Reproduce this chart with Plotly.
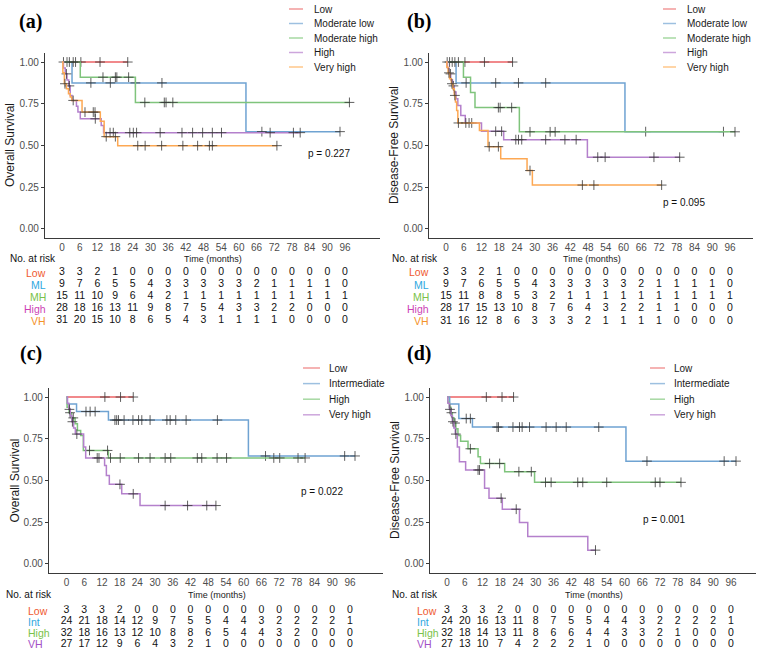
import plotly.graph_objects as go

W, H = 766, 654
TIMES = [0, 6, 12, 18, 24, 30, 36, 42, 48, 54, 60, 66, 72, 78, 84, 90, 96]

# ---------------- Panel (a): Overall survival, 5 groups ----------------
a_low_t = [0, 22.3];                         a_low_s = [1.0, 1.0]
a_low_c = [6.4, 12.9, 22.3]
a_ml_t = [0, 3.4, 62.4, 94.3];               a_ml_s = [1.0, 0.875, 0.583, 0.583]
a_ml_c = [1.7, 9.8, 16.4, 24.9, 33.9, 67.8, 94.3]
a_mh_t = [0, 6.2, 24.9, 97.5];               a_mh_s = [1.0, 0.909, 0.758, 0.758]
a_mh_c = [0.5, 2.5, 3.8, 4.6, 13.9, 18.1, 18.6, 22.6, 28.1, 34.7, 35.3, 37.6, 97.5]
a_hi_t = [0, 0.5, 1.1, 1.7, 2.3, 2.8, 3.4, 4.9, 5.4, 6.2, 13.3, 14.1, 80.8]
a_hi_s = [1.0, 0.964, 0.929, 0.893, 0.857, 0.80, 0.77, 0.735, 0.70, 0.66, 0.62, 0.577, 0.577]
a_hi_c = [1.5, 2.5, 11.3, 16.3, 17.4, 23.0, 24.2, 25.3, 33.3, 40.7, 44.3, 47.7, 51.0, 54.1, 70.6, 78.5, 80.8]
a_vh_t = [0, 0.3, 0.8, 1.5, 2.2, 2.8, 3.3, 6.8, 13.0, 14.3, 18.9, 72.9]
a_vh_s = [1.0, 0.935, 0.87, 0.84, 0.81, 0.79, 0.77, 0.70, 0.645, 0.553, 0.499, 0.499]
a_vh_c = [1.0, 3.8, 7.8, 10.6, 11.2, 15.0, 18.1, 25.7, 28.2, 33.8, 41.0, 46.0, 50.0, 51.0, 72.9]

# ---------------- Panel (b): Disease-free survival, 5 groups ----------------
b_low_t = [0, 22.5];                         b_low_s = [1.0, 1.0]
b_low_c = [6.4, 13.0, 22.5]
b_ml_t = [0, 3.4, 60.5, 93.8];               b_ml_s = [1.0, 0.875, 0.583, 0.583]
b_ml_c = [1.2, 6.8, 16.8, 24.5, 33.7, 67.5, 93.8]
b_mh_t = [0, 5.9, 8.3, 9.8, 24.8, 97.7];     b_mh_s = [1.0, 0.909, 0.818, 0.727, 0.582, 0.582]
b_mh_c = [0.4, 2.1, 3.0, 4.2, 17.7, 18.3, 22.2, 28.4, 35.2, 36.9, 97.7]
b_hi_t = [0, 0.5, 1.0, 1.6, 2.2, 2.8, 3.4, 4.0, 5.0, 6.5, 12.0, 19.5, 47.8, 79.0]
b_hi_s = [1.0, 0.964, 0.929, 0.893, 0.857, 0.82, 0.78, 0.74, 0.68, 0.635, 0.585, 0.535, 0.43, 0.43]
b_hi_c = [1.5, 2.5, 7.8, 8.7, 16.8, 18.8, 23.6, 24.5, 25.6, 33.7, 40.2, 44.0, 51.3, 53.8, 70.3, 79.0]
b_vh_t = [0, 0.3, 0.7, 1.2, 1.8, 2.3, 2.8, 3.2, 3.6, 4.0, 11.3, 14.2, 18.5, 27.4, 29.2, 72.9]
b_vh_s = [1.0, 0.968, 0.935, 0.90, 0.87, 0.84, 0.80, 0.76, 0.71, 0.635, 0.59, 0.493, 0.42, 0.35, 0.263, 0.263]
b_vh_c = [1.0, 2.0, 3.0, 4.2, 6.7, 14.6, 17.7, 28.4, 46.1, 50.0, 72.9]

# ---------------- Panel (c): Overall survival, 4 groups ----------------
c_low_t = [0, 22.6];                         c_low_s = [1.0, 1.0]
c_low_c = [13.0, 18.3, 22.6]
c_int_t = [0, 0.3, 3.4, 14.2, 61.6, 97.7];   c_int_s = [1.0, 0.958, 0.913, 0.862, 0.647, 0.647]
c_int_c = [6.6, 8.0, 9.7, 16.4, 17.0, 17.6, 19.5, 22.5, 24.4, 25.5, 28.3, 34.0, 35.1, 37.0, 40.5, 51.1,
           67.4, 94.2, 97.7]
c_hi_t = [0, 0.2, 0.9, 1.7, 2.9, 3.7, 4.8, 5.7, 14.2, 80.8]
c_hi_s = [1.0, 0.938, 0.906, 0.875, 0.84, 0.80, 0.77, 0.68, 0.635, 0.635]
c_hi_c = [1.2, 2.3, 7.8, 13.9, 14.9, 18.2, 24.4, 28.3, 33.4, 35.3, 44.3, 45.8, 51.0, 54.2, 70.2, 72.2,
          78.4, 80.8]
c_vh_t = [0, 0.3, 0.8, 1.3, 1.8, 2.4, 3.0, 5.8, 6.5, 12.9, 13.5, 14.5, 18.7, 24.9, 50.6]
c_vh_s = [1.0, 0.963, 0.926, 0.889, 0.852, 0.815, 0.778, 0.70, 0.635, 0.59, 0.53, 0.477, 0.42, 0.35, 0.35]
c_vh_c = [1.0, 2.0, 3.5, 10.4, 11.0, 18.1, 22.6, 33.4, 41.0, 47.5, 50.6]

# ---------------- Panel (d): Disease-free survival, 4 groups ----------------
d_low_t = [0, 22.5];                         d_low_s = [1.0, 1.0]
d_low_c = [13.3, 18.6, 22.5]
d_int_t = [0, 0.9, 4.0, 8.6, 60.5, 97.7];    d_int_s = [1.0, 0.958, 0.871, 0.82, 0.616, 0.616]
d_int_c = [6.5, 7.9, 16.9, 17.4, 22.3, 24.5, 25.4, 27.9, 33.5, 36.9, 40.3, 51.3, 67.6, 93.7, 97.7]
d_hi_t = [0, 0.3, 0.8, 1.3, 1.8, 2.4, 3.0, 3.7, 4.6, 7.1, 10.5, 11.3, 19.5, 29.6, 79.1]
d_hi_s = [1.0, 0.969, 0.938, 0.906, 0.875, 0.844, 0.81, 0.77, 0.735, 0.69, 0.642, 0.602, 0.553, 0.489, 0.489]
d_hi_c = [1.5, 2.7, 7.9, 14.4, 17.8, 24.3, 28.5, 33.3, 35.2, 44.2, 45.9, 54.0, 70.4, 72.0, 79.1]
d_vh_t = [0, 0.3, 0.8, 1.3, 1.8, 2.3, 2.8, 3.5, 4.2, 6.3, 12.7, 14.2, 18.7, 24.5, 27.3, 47.6, 50.2]
d_vh_s = [1.0, 0.963, 0.926, 0.889, 0.852, 0.815, 0.778, 0.70, 0.612, 0.563, 0.453, 0.394, 0.328, 0.249,
          0.165, 0.083, 0.083]
d_vh_c = [1.0, 2.0, 3.0, 10.5, 11.0, 18.3, 23.4, 50.2]

# ---------------- Numbers at risk ----------------
a_risk_low = [3, 3, 2, 1, 0, 0, 0, 0, 0, 0, 0, 0, 0, 0, 0, 0, 0]
a_risk_ml = [9, 7, 6, 5, 5, 4, 3, 3, 3, 3, 3, 2, 1, 1, 1, 1, 0]
a_risk_mh = [15, 11, 10, 9, 6, 4, 2, 1, 1, 1, 1, 1, 1, 1, 1, 1, 1]
a_risk_hi = [28, 18, 16, 13, 11, 9, 8, 7, 5, 4, 3, 3, 2, 2, 0, 0, 0]
a_risk_vh = [31, 20, 15, 10, 8, 6, 5, 4, 3, 1, 1, 1, 1, 0, 0, 0, 0]

b_risk_low = [3, 3, 2, 1, 0, 0, 0, 0, 0, 0, 0, 0, 0, 0, 0, 0, 0]
b_risk_ml = [9, 7, 6, 5, 5, 4, 3, 3, 3, 3, 3, 2, 1, 1, 1, 1, 0]
b_risk_mh = [15, 11, 8, 8, 5, 3, 2, 1, 1, 1, 1, 1, 1, 1, 1, 1, 1]
b_risk_hi = [28, 17, 15, 13, 10, 8, 7, 6, 4, 3, 2, 2, 1, 1, 0, 0, 0]
b_risk_vh = [31, 16, 12, 8, 6, 3, 3, 3, 2, 1, 1, 1, 1, 0, 0, 0, 0]

c_risk_low = [3, 3, 3, 2, 0, 0, 0, 0, 0, 0, 0, 0, 0, 0, 0, 0, 0]
c_risk_int = [24, 21, 18, 14, 12, 9, 7, 5, 5, 4, 4, 3, 2, 2, 2, 2, 1]
c_risk_hi = [32, 18, 16, 13, 12, 10, 8, 8, 6, 5, 4, 4, 3, 2, 0, 0, 0]
c_risk_vh = [27, 17, 12, 9, 6, 4, 3, 2, 1, 0, 0, 0, 0, 0, 0, 0, 0]

d_risk_low = [3, 3, 3, 2, 0, 0, 0, 0, 0, 0, 0, 0, 0, 0, 0, 0, 0]
d_risk_int = [24, 20, 16, 13, 11, 8, 7, 5, 5, 4, 4, 3, 2, 2, 2, 2, 1]
d_risk_hi = [32, 18, 14, 13, 11, 8, 6, 6, 4, 4, 3, 3, 2, 1, 0, 0, 0]
d_risk_vh = [27, 13, 10, 7, 4, 2, 2, 2, 1, 0, 0, 0, 0, 0, 0, 0, 0]

LEGEND_5 = ["Low", "Moderate low", "Moderate high", "High", "Very high"]
LEGEND_4 = ["Low", "Intermediate", "High", "Very high"]
RISK_LABELS_5 = ["Low", "ML", "MH", "High", "VH"]
RISK_LABELS_4 = ["Low", "Int", "High", "VH"]
P_VALUES = ["p = 0.227", "p = 0.095", "p = 0.022", "p = 0.001"]
PANEL_TAGS = ["(a)", "(b)", "(c)", "(d)"]
Y_TITLES = ["Overall Survival", "Disease-Free Survival", "Overall Survival", "Disease-Free Survival"]

# ---------------- styles ----------------
C_LOW, C_BLUE, C_GREEN, C_PURPLE, C_ORANGE = "#EC6264", "#6FA3D2", "#7FC47C", "#B480CC", "#FDA853"
COLORS_5 = [C_LOW, C_BLUE, C_GREEN, C_PURPLE, C_ORANGE]
COLORS_4 = [C_LOW, C_BLUE, C_GREEN, C_PURPLE]
LEG_5 = ["#F29A9A", "#9DC0E0", "#A6D8A2", "#CDA6DC", "#FFC78A"]
LEG_4 = ["#F29A9A", "#9DC0E0", "#A6D8A2", "#CDA6DC"]
RL_5 = ["#EF5A30", "#2FA8E0", "#79C24A", "#CC3FB5", "#F4922A"]
RL_4 = ["#EF5A30", "#2FA8E0", "#79C24A", "#A24FC6"]
SANS = "Liberation Sans"
AX = "#3a3a3a"
TICK = "#4d4d4d"


def X(px):
    return px / W


def Y(py):
    return 1 - py / H


def step_at(ts, ss, t):
    v = ss[0]
    for ti, si in zip(ts, ss):
        if ti <= t:
            v = si
    return v


# geometry (pixels) per panel
GEOM = [
    dict(x0=62.0, xs=2.948, left=45, right=380, top=53, bottom=238,
         row0=272.7, rsp=12.0, time_y=259, nar_x=8, nar_y=258,
         rl_x=48, rl_anchor="right", leg_x0=289, leg_x1=303, leg_tx=312, leg_y0=9, leg_sp=14.5,
         tag=(30, 21), p=(329, 153), ytitle_x=10.5),
    dict(x0=446.0, xs=2.958, left=429, right=753, top=53, bottom=238,
         row0=272.5, rsp=12.1, time_y=259, nar_x=390, nar_y=258,
         rl_x=431, rl_anchor="right", leg_x0=663, leg_x1=676, leg_tx=685, leg_y0=9, leg_sp=14.5,
         tag=(419, 21), p=(684, 202), ytitle_x=394.5),
    dict(x0=66.5, xs=2.953, left=49, right=383, top=388, bottom=573,
         row0=610.7, rsp=11.1, time_y=594.5, nar_x=4, nar_y=594,
         rl_x=26, rl_anchor="left", leg_x0=303, leg_x1=320, leg_tx=327, leg_y0=368, leg_sp=15.6,
         tag=(31, 353), p=(322, 491), ytitle_x=14),
    dict(x0=447.0, xs=2.958, left=430, right=756, top=388, bottom=573,
         row0=610.7, rsp=11.1, time_y=594.5, nar_x=390, nar_y=594,
         rl_x=414.7, rl_anchor="left", leg_x0=650, leg_x1=665, leg_tx=672, leg_y0=368, leg_sp=15.6,
         tag=(419, 353), p=(664, 519), ytitle_x=394.5),
]

CURVES = [
    [(a_low_t, a_low_s, a_low_c), (a_ml_t, a_ml_s, a_ml_c), (a_mh_t, a_mh_s, a_mh_c),
     (a_hi_t, a_hi_s, a_hi_c), (a_vh_t, a_vh_s, a_vh_c)],
    [(b_low_t, b_low_s, b_low_c), (b_ml_t, b_ml_s, b_ml_c), (b_mh_t, b_mh_s, b_mh_c),
     (b_hi_t, b_hi_s, b_hi_c), (b_vh_t, b_vh_s, b_vh_c)],
    [(c_low_t, c_low_s, c_low_c), (c_int_t, c_int_s, c_int_c), (c_hi_t, c_hi_s, c_hi_c),
     (c_vh_t, c_vh_s, c_vh_c)],
    [(d_low_t, d_low_s, d_low_c), (d_int_t, d_int_s, d_int_c), (d_hi_t, d_hi_s, d_hi_c),
     (d_vh_t, d_vh_s, d_vh_c)],
]
RISKS = [
    [a_risk_low, a_risk_ml, a_risk_mh, a_risk_hi, a_risk_vh],
    [b_risk_low, b_risk_ml, b_risk_mh, b_risk_hi, b_risk_vh],
    [c_risk_low, c_risk_int, c_risk_hi, c_risk_vh],
    [d_risk_low, d_risk_int, d_risk_hi, d_risk_vh],
]
LEGENDS = [LEGEND_5, LEGEND_5, LEGEND_4, LEGEND_4]
RLABELS = [RISK_LABELS_5, RISK_LABELS_5, RISK_LABELS_4, RISK_LABELS_4]
CCOLS = [COLORS_5, COLORS_5, COLORS_4, COLORS_4]
LCOLS = [LEG_5, LEG_5, LEG_4, LEG_4]
RCOLS = [RL_5, RL_5, RL_4, RL_4]

fig = go.Figure()
annotations = []
shapes = []
layout_axes = {}

for i in range(4):
    g = GEOM[i]
    n = i + 1
    tn = i + 5
    xa = "x" if n == 1 else f"x{n}"
    ya = "y" if n == 1 else f"y{n}"
    xt, yt = f"x{tn}", f"y{tn}"
    xrange = [(g["left"] - g["x0"]) / g["xs"], (g["right"] - g["x0"]) / g["xs"]]
    xdom = [X(g["left"]), X(g["right"])]

    # curves + censor marks
    for (ts, ss, cens), col in zip(CURVES[i], CCOLS[i]):
        fig.add_trace(go.Scatter(x=ts, y=ss, mode="lines", line=dict(color=col, width=1.5, shape="hv"),
                                 xaxis=xa, yaxis=ya, showlegend=False, hoverinfo="skip"))
        fig.add_trace(go.Scatter(x=cens, y=[step_at(ts, ss, c) for c in cens], mode="markers",
                                 marker=dict(symbol="cross-thin", size=7,
                                             line=dict(width=1, color="rgba(55,55,55,0.8)")),
                                 xaxis=xa, yaxis=ya, showlegend=False, hoverinfo="skip"))

    # risk table
    nrows = len(RISKS[i])
    for r, (vals, lab, rc) in enumerate(zip(RISKS[i], RLABELS[i], RCOLS[i])):
        fig.add_trace(go.Scatter(x=TIMES, y=[r] * len(TIMES), mode="text", text=[str(v) for v in vals],
                                 textfont=dict(family=SANS, size=10.5, color="#111111"),
                                 xaxis=xt, yaxis=yt, showlegend=False, hoverinfo="skip"))
        annotations.append(dict(x=X(g["rl_x"]), y=r, xref="paper", yref=yt, text=lab, showarrow=False,
                                xanchor=g["rl_anchor"], yanchor="middle",
                                font=dict(family=SANS, size=10.5, color=rc)))

    axkey = "" if n == 1 else str(n)
    layout_axes[f"xaxis{axkey}"] = dict(
        domain=xdom, range=xrange, anchor=ya, showline=True, linecolor=AX, linewidth=1.2,
        ticks="", tickvals=TIMES, showgrid=False, zeroline=False,
        tickfont=dict(family=SANS, size=10, color=TICK))
    layout_axes[f"yaxis{axkey}"] = dict(
        domain=[Y(g["bottom"]), Y(g["top"])], range=[-0.054, 1.054], anchor=xa, showline=True,
        linecolor=AX, linewidth=1.2, ticks="outside", ticklen=3, tickcolor=AX,
        tickvals=[0, 0.25, 0.5, 0.75, 1.0], tickformat=".2f", showgrid=False, zeroline=False,
        tickfont=dict(family=SANS, size=10, color=TICK))
    tb_top = g["row0"] - g["rsp"] / 2
    tb_bot = g["row0"] + (nrows - 0.5) * g["rsp"]
    layout_axes[f"xaxis{tn}"] = dict(domain=xdom, range=xrange, anchor=yt, visible=False)
    layout_axes[f"yaxis{tn}"] = dict(domain=[Y(tb_bot), Y(tb_top)], range=[nrows - 0.5, -0.5],
                                     anchor=xt, visible=False)

    # texts
    annotations.append(dict(x=X((g["left"] + g["right"]) / 2 + 1), y=Y(g["time_y"]), xref="paper", yref="paper",
                            text="Time (months)", showarrow=False, xanchor="center", yanchor="middle",
                            font=dict(family=SANS, size=9, color="#222222")))
    annotations.append(dict(x=X(g["nar_x"]), y=Y(g["nar_y"]), xref="paper", yref="paper",
                            text="No. at risk", showarrow=False, xanchor="left", yanchor="middle",
                            font=dict(family=SANS, size=10, color="#111111")))
    annotations.append(dict(x=X(g["ytitle_x"]), y=Y((g["top"] + g["bottom"]) / 2), xref="paper", yref="paper",
                            text=Y_TITLES[i], textangle=-90, showarrow=False, xanchor="center",
                            yanchor="middle", font=dict(family=SANS, size=12, color="#1a1a1a")))
    annotations.append(dict(x=X(g["tag"][0]), y=Y(g["tag"][1]), xref="paper", yref="paper",
                            text="<b>" + PANEL_TAGS[i] + "</b>", showarrow=False, xanchor="center",
                            yanchor="middle", font=dict(family="Liberation Serif", size=20, color="#000000")))
    annotations.append(dict(x=X(g["p"][0]), y=Y(g["p"][1]), xref="paper", yref="paper",
                            text=P_VALUES[i], showarrow=False, xanchor="center", yanchor="middle",
                            font=dict(family=SANS, size=10, color="#111111")))
    # legend
    for k, (name, lc) in enumerate(zip(LEGENDS[i], LCOLS[i])):
        yy = Y(g["leg_y0"] + k * g["leg_sp"])
        shapes.append(dict(type="line", xref="paper", yref="paper", x0=X(g["leg_x0"]), x1=X(g["leg_x1"]),
                           y0=yy, y1=yy, line=dict(color=lc, width=1.5)))
        annotations.append(dict(x=X(g["leg_tx"]), y=yy, xref="paper", yref="paper", text=name,
                                showarrow=False, xanchor="left", yanchor="middle",
                                font=dict(family=SANS, size=10, color="#1a1a1a")))

fig.update_layout(
    width=W, height=H, margin=dict(l=0, r=0, t=0, b=0),
    paper_bgcolor="white", plot_bgcolor="white", showlegend=False,
    annotations=annotations, shapes=shapes, **layout_axes)

fig.write_html("out.html", config={"displayModeBar": False},
               post_script="document.body.style.margin='0';document.body.style.padding='0';"
                           "document.documentElement.style.overflow='hidden';")
